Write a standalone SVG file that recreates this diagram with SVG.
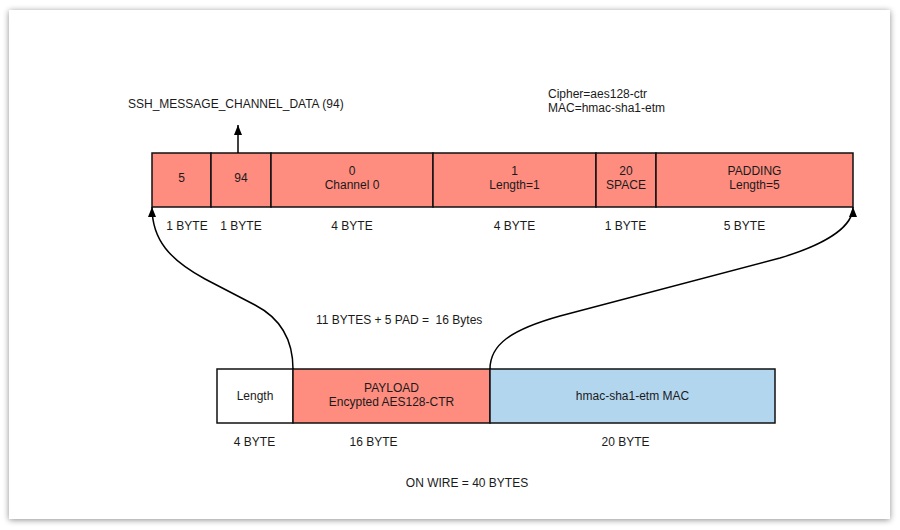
<svg xmlns="http://www.w3.org/2000/svg" width="900" height="530" viewBox="0 0 900 530">
<defs>
<filter id="shadow" x="-5%" y="-5%" width="110%" height="110%">
<feGaussianBlur in="SourceAlpha" stdDeviation="3"/>
<feOffset dx="0" dy="1" result="b"/>
<feComponentTransfer><feFuncA type="linear" slope="0.45"/></feComponentTransfer>
<feMerge><feMergeNode/><feMergeNode in="SourceGraphic"/></feMerge>
</filter>
<marker id="arrow" viewBox="0 0 10 10" refX="10" refY="5" markerWidth="10" markerHeight="10" markerUnits="userSpaceOnUse" orient="auto">
<path d="M0,1 L10,5 L0,9 Z" fill="#000"/>
</marker>
<style>
text{font-family:"Liberation Sans",Arial,sans-serif;font-size:12px;fill:#1a1a1a;text-anchor:middle}
.l{text-anchor:start}
.pre{white-space:pre}
.red{fill:#fe8d80;stroke:#111;stroke-width:1.5}
.blue{fill:#b3d6ef;stroke:#111;stroke-width:1.5}
.white{fill:#fff;stroke:#111;stroke-width:1.5}
.conn{fill:none;stroke:#000;stroke-width:1.5}
</style>
</defs>
<rect x="0" y="0" width="900" height="530" fill="#fff"/>
<rect x="9" y="10" width="881" height="509" fill="#fff" filter="url(#shadow)"/>

<g id="labels">
<text class="l" x="128" y="108">SSH_MESSAGE_CHANNEL_DATA (94)</text>
<text class="l" x="548" y="98">Cipher=aes128-ctr</text>
<text class="l" x="548" y="112">MAC=hmac-sha1-etm</text>
<text class="l pre" x="316" y="324" xml:space="preserve">11 BYTES + 5 PAD =  16 Bytes</text>
<text x="467" y="487">ON WIRE = 40 BYTES</text>
</g>

<g id="cell-len5">
<rect class="red" x="152" y="153" width="59" height="54"/>
<text x="181.5" y="182">5</text>
<text x="187" y="230">1 BYTE</text>
</g>
<g id="cell-94">
<rect class="red" x="211" y="153" width="60" height="54"/>
<text x="241" y="182">94</text>
<text x="241" y="230">1 BYTE</text>
</g>
<g id="cell-channel">
<rect class="red" x="271" y="153" width="162" height="54"/>
<text x="352" y="175">0</text>
<text x="352" y="189">Channel 0</text>
<text x="352" y="230">4 BYTE</text>
</g>
<g id="cell-length1">
<rect class="red" x="433" y="153" width="163" height="54"/>
<text x="514.5" y="175">1</text>
<text x="514.5" y="189">Length=1</text>
<text x="514.5" y="230">4 BYTE</text>
</g>
<g id="cell-space">
<rect class="red" x="596" y="153" width="60" height="54"/>
<text x="626" y="175">20</text>
<text x="626" y="189">SPACE</text>
<text x="625.5" y="230">1 BYTE</text>
</g>
<g id="cell-padding">
<rect class="red" x="656" y="153" width="197" height="54"/>
<text x="754.5" y="175">PADDING</text>
<text x="754.5" y="189">Length=5</text>
<text x="744.5" y="230">5 BYTE</text>
</g>

<g id="wire-length">
<rect class="white" x="217" y="369" width="76" height="54"/>
<text x="255" y="400">Length</text>
<text x="254.5" y="446">4 BYTE</text>
</g>
<g id="wire-payload">
<rect class="red" x="293" y="369" width="197" height="54"/>
<text x="391.5" y="392">PAYLOAD</text>
<text x="391.5" y="406">Encypted AES128-CTR</text>
<text x="373.5" y="446">16 BYTE</text>
</g>
<g id="wire-mac">
<rect class="blue" x="490" y="369" width="285" height="54"/>
<text x="632.5" y="400">hmac-sha1-etm MAC</text>
<text x="625.5" y="446">20 BYTE</text>
</g>

<g id="connectors">
<path class="conn" d="M238,153 L238,125" marker-end="url(#arrow)"/>
<path class="conn" d="M293,369 C293,340 280,318 255,305 L205,279 C170,260 152,240 152,207" marker-end="url(#arrow)"/>
<path class="conn" d="M490,369 C490,345 510,330 560,316 L780,258 C830,243 853,225 853,207" marker-end="url(#arrow)"/>
</g>
</svg>
